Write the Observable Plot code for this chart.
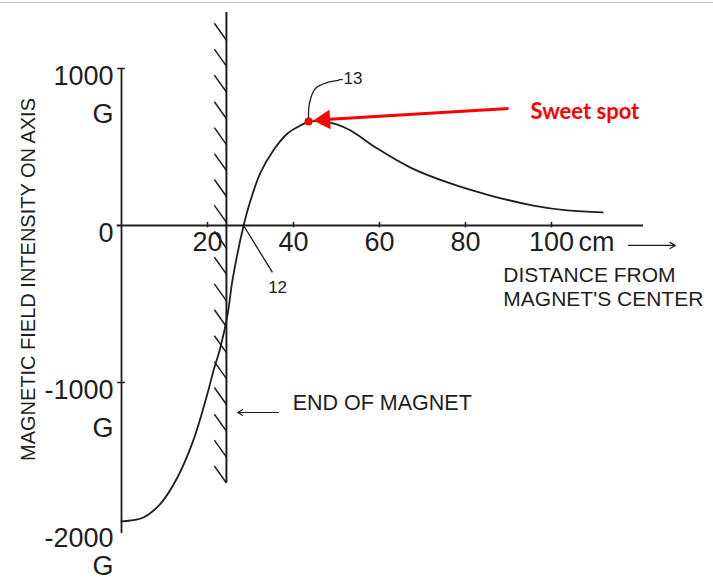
<!DOCTYPE html>
<html>
<head>
<meta charset="utf-8">
<script src="https://cdn.jsdelivr.net/npm/d3@7"></script>
<script src="https://cdn.jsdelivr.net/npm/@observablehq/plot@0.6"></script>
<style>
  html, body { margin: 0; padding: 0; background: #fff; }
  #frame { position: relative; width: 713px; height: 583px; overflow: hidden; }
  #topline { position: absolute; left: 0; top: 2px; width: 713px; height: 1px; background: #c4c4c4; }
</style>
</head>
<body>
<div id="frame"><div id="topline"></div></div>
<script>
// ---- data ----
const distance = [0, 2.1, 5.1, 9.1, 13.0, 16.7, 20.0, 21.4, 23.0, 24.7, 25.8, 28.4, 30.0, 32.3, 35.3, 38.6, 41.6, 43.5, 47.0, 50.2, 53.3, 59.5, 67.2, 76.5, 85.8, 95.8, 103.7, 111.9];
const field    = [-1885, -1879, -1860, -1771, -1605, -1369, -1070, -924, -777, -561, -350, 0, 159, 335, 478, 586, 637, 660, 662, 643, 605, 490, 369, 268, 191, 127, 96, 83];

const xTicks = [20, 40, 60, 80, 100];
const xTickLabels = ["20", "40", "60", "80", "100"];
const yTicks = [1000, 0, -1000, -2000];
const yTickLabels = ["1000\nG", "0", "-1000\nG", "-2000\nG"];

const magnetEnd = 24.4;                 // cm
const magnetTop = 1357, magnetBottom = -1640;  // G
const hatchEnds = [1180, 1015, 850, 680, 515, 350, 185, 20, -145, -310, -480, -645, -810, -975, -1140, -1310, -1475, -1640];

const sweetSpot = {x: 43.5, y: 662};
const leader13 = [[50.5, 924], [47.9, 911], [45.1, 873], [43.7, 777], [43.5, 675]];
const leader12 = {x1: 28.4, y1: 0, x2: 35.1, y2: -299};

const ink = "#1e1e1e";
const font = "'Liberation Sans', Arial, sans-serif";

const rows = distance.map((d, i) => ({x: d, y: field[i]}));
const hatches = hatchEnds.map(v => ({x1: magnetEnd - 2.8, y1: v + 108, x2: magnetEnd, y2: v}));
const yLab = yTicks.map((v, i) => ({v, label: yTickLabels[i]}));

const chart = Plot.plot({
  width: 713,
  height: 583,
  marginLeft: 121,
  marginRight: 70,
  marginTop: 68,
  marginBottom: 44,
  x: {domain: [0, 121.4], axis: null},
  y: {domain: [-2000, 1000], axis: null},
  style: {background: "transparent", fontFamily: font, color: ink},
  marks: [
    // axes
    Plot.ruleX([0], {y1: -1962, y2: 1000, stroke: ink, strokeWidth: 1.8}),
    Plot.ruleY([0], {x1: -1, x2: 121.4, stroke: ink, strokeWidth: 1.8}),
    Plot.ruleY(yTicks.filter(v => v !== 0 && v !== -2000), {x1: -0.9, x2: 0.9, stroke: ink, strokeWidth: 1.5}),
    Plot.ruleX(xTicks, {y1: -15, y2: 20, stroke: ink, strokeWidth: 1.5}),
    Plot.text(yLab.filter(d => d.v !== -2000), {x: 0, y: "v", text: "label", textAnchor: "end", lineAnchor: "top", dx: -8, dy: -10, fontSize: 27, lineHeight: 1.4, fill: ink}),
    Plot.text(yLab.filter(d => d.v === -2000), {x: 0, y: "v", text: "label", textAnchor: "end", lineAnchor: "top", dx: -8, dy: -12, fontSize: 27, lineHeight: 1.02, fill: ink}),
    Plot.text(xTicks, {x: d => d, y: 0, text: (d, i) => xTickLabels[i], textAnchor: "middle", lineAnchor: "top", dy: 6, fontSize: 27, fill: ink}),
    Plot.text(["cm"], {x: 100, y: 0, textAnchor: "start", lineAnchor: "top", dx: 27, dy: 6, fontSize: 27, fill: ink}),
    Plot.arrow([{x1: 117.9, y1: -127, x2: 128.8, y2: -127}], {x1: "x1", y1: "y1", x2: "x2", y2: "y2", stroke: ink, strokeWidth: 1.3, headLength: 7}),
    Plot.text(["DISTANCE FROM\nMAGNET'S CENTER"], {x: 88.8, y: -255, textAnchor: "start", lineAnchor: "top", fontSize: 21, lineHeight: 1.12, fill: ink}),
    Plot.text(["MAGNETIC FIELD INTENSITY ON AXIS"], {x: -21.6, y: -344, rotate: -90, textAnchor: "middle", fontSize: 20, fill: ink}),

    // end of magnet (hatched wall)
    Plot.ruleX([magnetEnd], {y1: magnetBottom, y2: magnetTop, stroke: ink, strokeWidth: 2}),
    Plot.link(hatches, {x1: "x1", y1: "y1", x2: "x2", y2: "y2", stroke: ink, strokeWidth: 1.5}),
    Plot.arrow([{x1: 36.5, y1: -1191, x2: 27.0, y2: -1191}], {x1: "x1", y1: "y1", x2: "x2", y2: "y2", stroke: ink, strokeWidth: 1.2, headLength: 7}),
    Plot.text(["END OF MAGNET"], {x: 39.8, y: -1134, textAnchor: "start", fontSize: 21.5, fill: ink}),

    // field curve
    Plot.line(rows, {x: "x", y: "y", curve: "catmull-rom", stroke: ink, strokeWidth: 1.8}),

    // reference numerals
    Plot.link([leader12], {x1: "x1", y1: "y1", x2: "x2", y2: "y2", stroke: ink, strokeWidth: 1.3}),
    Plot.text(["12"], {x: 36.3, y: -395, textAnchor: "middle", fontSize: 17, fill: ink}),
    Plot.line(leader13, {x: d => d[0], y: d => d[1], curve: "catmull-rom", stroke: ink, strokeWidth: 1.3}),
    Plot.text(["-13"], {x: 50.3, y: 936, textAnchor: "start", fontSize: 17, fill: ink}),

    // sweet spot annotation
    Plot.link([{x1: 90.0, y1: 745, x2: 47.5, y2: 675}], {x1: "x1", y1: "y1", x2: "x2", y2: "y2", stroke: "#ff0000", strokeWidth: 3}),
    Plot.dot([{x: 47.2, y: 673}], {x: "x", y: "y", symbol: "triangle", r: 7.2, rotate: -93.5, fill: "#ff0000", stroke: "none"}),
    Plot.dot([sweetSpot], {x: "x", y: "y", r: 4, fill: "#ff0000", stroke: "none"}),
    Plot.text(["Sweet spot"], {x: 95.1, y: 726, textAnchor: "start", fontSize: 22, fontWeight: "bold", fill: "#ff0000", fontFamily: "Lato, 'Open Sans', sans-serif"})
  ]
});
document.getElementById("frame").appendChild(chart);
</script>
</body>
</html>
